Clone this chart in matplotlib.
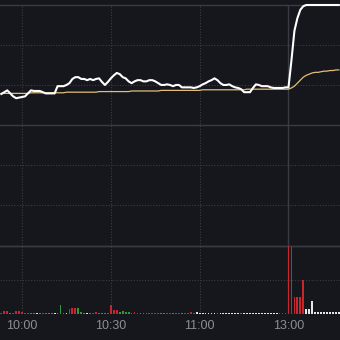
import matplotlib.pyplot as plt
import numpy as np

# minutes since 9:30 in trading time (13:00 sits right after 11:30 = 120)
minutes = np.arange(23, 138)

prev_close = 20.00

price = [
    20.52, 20.55, 20.58, 20.53, 20.48, 20.45, 20.46, 20.47, 20.48, 20.53,
    20.58, 20.57, 20.57, 20.57, 20.55, 20.53, 20.53, 20.53, 20.53, 20.65,
    20.65, 20.65, 20.67, 20.70, 20.77, 20.80, 20.80, 20.77, 20.77, 20.75,
    20.77, 20.75, 20.77, 20.78, 20.72, 20.67, 20.72, 20.78, 20.83, 20.87,
    20.85, 20.80, 20.78, 20.73, 20.70, 20.73, 20.75, 20.75, 20.73, 20.73,
    20.75, 20.75, 20.73, 20.70, 20.67, 20.67, 20.68, 20.67, 20.65, 20.67,
    20.67, 20.63, 20.63, 20.63, 20.63, 20.62, 20.63, 20.65, 20.68, 20.70,
    20.73, 20.75, 20.78, 20.75, 20.70, 20.67, 20.67, 20.68, 20.65, 20.63,
    20.62, 20.60, 20.55, 20.55, 20.55, 20.62, 20.68, 20.67, 20.65, 20.65,
    20.65, 20.63, 20.62, 20.62, 20.62, 20.62, 20.63, 20.63, 21.08, 21.57,
    21.78, 21.92, 21.98, 22.00, 22.00, 22.00, 22.00, 22.00, 22.00, 22.00,
    22.00, 22.00, 22.00, 22.00, 22.00,
]

avg_price = [
    20.53, 20.53, 20.53, 20.53, 20.53, 20.53, 20.53, 20.53, 20.53, 20.53,
    20.54, 20.54, 20.54, 20.54, 20.54, 20.54, 20.54, 20.54, 20.54, 20.54,
    20.54, 20.54, 20.55, 20.55, 20.55, 20.55, 20.55, 20.55, 20.55, 20.55,
    20.55, 20.55, 20.55, 20.56, 20.56, 20.56, 20.56, 20.56, 20.56, 20.56,
    20.56, 20.56, 20.56, 20.56, 20.57, 20.57, 20.57, 20.57, 20.57, 20.57,
    20.57, 20.57, 20.57, 20.57, 20.58, 20.58, 20.58, 20.58, 20.58, 20.58,
    20.58, 20.58, 20.58, 20.58, 20.58, 20.58, 20.58, 20.58, 20.59, 20.59,
    20.59, 20.59, 20.59, 20.59, 20.59, 20.59, 20.59, 20.59, 20.59, 20.59,
    20.59, 20.59, 20.59, 20.60, 20.60, 20.60, 20.60, 20.60, 20.60, 20.60,
    20.60, 20.60, 20.60, 20.60, 20.60, 20.60, 20.60, 20.60, 20.62, 20.65,
    20.70, 20.75, 20.80, 20.83, 20.85, 20.87, 20.88, 20.88, 20.89, 20.90,
    20.90, 20.91, 20.91, 20.92, 20.92,
]

volume = [
    1, 3, 3, 1, 1, 3, 3, 2, 1, 1,
    1, 1, 1, 1, 1, 1, 1, 1, 1, 1,
    9, 1, 1, 5, 6, 6, 6, 2, 1, 1,
    1, 1, 2, 1, 1, 1, 1, 9, 4, 4,
    2, 3, 2, 2, 1, 2, 1, 1, 1, 1,
    1, 1, 1, 1, 1, 1, 1, 1, 1, 1,
    1, 1, 1, 1, 2, 1, 2, 1, 1, 1,
    1, 1, 1, 1, 1, 1, 1, 1, 1, 1,
    1, 1, 1, 1, 1, 1, 1, 1, 1, 1,
    1, 1, 1, 1, 1, 1, 1, 68, 67, 17,
    17, 17, 34, 5, 5, 13, 2, 2, 2, 2,
    2, 2, 2, 2, 2,
]

# r = up tick, g = down tick, w = unchanged
vol_dir = list(
    "rrrgrrrrrr"
    "ggwgrgggwg"
    "ggwrrrgggw"
    "grrgggrrrr"
    "gggggrrggg"
    "rrrrggrrgr"
    "rgrrrrwwww"
    "wwwgwwwwww"
    "wgwwwwwwww"
    "wwwwrrrrrr"
    "rrrwwwwwww"
    "wwwww"
)

tick_pos = [30, 60, 90, 120]
tick_labels = ["10:00", "10:30", "11:00", "13:00"]

bg = "#15171c"
solid_c = "#3a3c43"
dot_c = "#3a3d45"
colors = {"r": "#c8262c", "g": "#2f9a3c", "w": "#e6e6e6"}

plt.rcParams["font.family"] = ["Liberation Sans", "DejaVu Sans"]

fig = plt.figure(figsize=(3.4, 3.4), dpi=100, facecolor=bg)
H = 340.0
ax = fig.add_axes([0, 1 - 245.5 / H, 1, 240.5 / H], facecolor=bg)
axv = fig.add_axes([0, 1 - 314 / H, 1, 68 / H])
axv.patch.set_visible(False)

xlim = (22.55, 137.4)

# price panel
limit = prev_close * 0.1
levels = prev_close + limit * np.array([-1, -2 / 3, -1 / 3, 0, 1 / 3, 2 / 3, 1])
for i, lv in enumerate(levels):
    if i in (0, 3, 6):
        ax.axhline(lv, color=solid_c, lw=1.0, zorder=1, clip_on=False)
    else:
        ax.axhline(lv, color=dot_c, lw=0.8, ls=(0, (1, 1.5)), zorder=1)
for t in tick_pos:
    if t == 120:
        ax.axvline(t, color=solid_c, lw=1.0, zorder=1)
        axv.axvline(t, color=solid_c, lw=1.0, zorder=1)
    else:
        ax.axvline(t, color=dot_c, lw=0.8, ls=(0, (1, 1.5)), zorder=1)
        axv.axvline(t, color=dot_c, lw=0.8, ls=(0, (1, 1.5)), zorder=1)

ax.plot(minutes, avg_price, color="#e3bd78", lw=0.9, zorder=3)
ax.plot(minutes, price, color="white", lw=1.5, zorder=4,
        solid_joinstyle="round", clip_on=False)
ax.set_xlim(*xlim)
ax.set_ylim(prev_close - limit, prev_close + limit)
ax.axis("off")

# volume panel
axv.axhline(68, color=solid_c, lw=1.0, zorder=2, clip_on=False)
axv.axhline(34, color=dot_c, lw=0.8, ls=(0, (1, 1.5)), zorder=1)
axv.bar(minutes, volume, width=0.6, color=[colors[d] for d in vol_dir],
        linewidth=0, antialiased=False, zorder=3)
axv.set_xlim(*xlim)
axv.set_ylim(0, 68)
axv.set_yticks([])
axv.set_xticks(tick_pos)
axv.set_xticklabels(tick_labels, fontsize=9, color="#8b8e95")
axv.tick_params(axis="x", length=0, pad=4)
for s in axv.spines.values():
    s.set_visible(False)

fig.savefig("out.png", dpi=100, facecolor=bg)
